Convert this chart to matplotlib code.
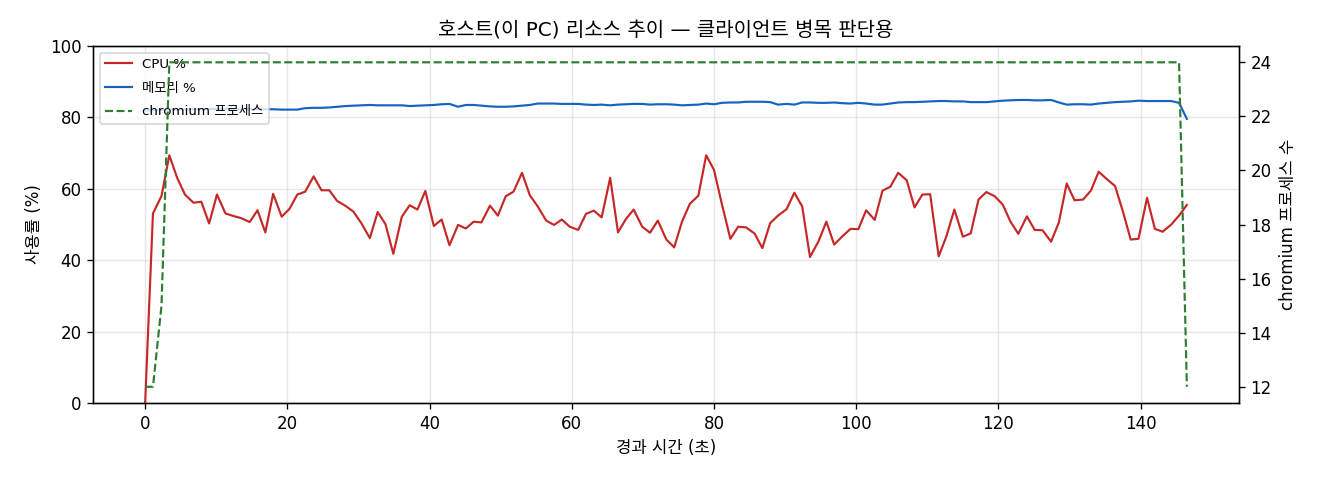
import matplotlib
matplotlib.use("Agg")
import matplotlib.pyplot as plt

plt.rcParams['font.family'] = ['DejaVu Sans', 'Noto Sans CJK KR']
plt.rcParams['axes.unicode_minus'] = False

elapsed_s = [
    0.0, 1.1, 2.3, 3.4, 4.5, 5.6, 6.8, 7.9, 9.0, 10.1,
    11.3, 12.4, 13.5, 14.7, 15.8, 16.9, 18.0, 19.2, 20.3, 21.4,
    22.5, 23.7, 24.8, 25.9, 27.0, 28.2, 29.3, 30.4, 31.6, 32.7,
    33.8, 34.9, 36.1, 37.2, 38.3, 39.4, 40.6, 41.7, 42.8, 44.0,
    45.1, 46.2, 47.3, 48.5, 49.6, 50.7, 51.8, 53.0, 54.1, 55.2,
    56.4, 57.5, 58.6, 59.7, 60.9, 62.0, 63.1, 64.2, 65.4, 66.5,
    67.6, 68.7, 69.9, 71.0, 72.1, 73.3, 74.4, 75.5, 76.6, 77.8,
    78.9, 80.0, 81.1, 82.3, 83.4, 84.5, 85.7, 86.8, 87.9, 89.0,
    90.2, 91.3, 92.4, 93.5, 94.7, 95.8, 96.9, 98.0, 99.2, 100.3,
    101.4, 102.6, 103.7, 104.8, 105.9, 107.1, 108.2, 109.3, 110.4, 111.6,
    112.7, 113.8, 115.0, 116.1, 117.2, 118.3, 119.5, 120.6, 121.7, 122.8,
    124.0, 125.1, 126.2, 127.4, 128.5, 129.6, 130.7, 131.9, 133.0, 134.1,
    135.2, 136.4, 137.5, 138.6, 139.7, 140.9, 142.0, 143.1, 144.3, 145.4,
    146.5,
]

cpu_pct = [
    0.0, 53.1, 58.0, 69.4, 63.1, 58.4, 56.1, 56.4, 50.3, 58.4,
    53.1, 52.4, 51.8, 50.7, 54.0, 47.8, 58.6, 52.2, 54.4, 58.4,
    59.2, 63.5, 59.6, 59.6, 56.6, 55.2, 53.6, 50.4, 46.2, 53.5,
    50.1, 41.8, 52.2, 55.4, 54.2, 59.4, 49.6, 51.4, 44.2, 49.9,
    48.9, 50.8, 50.6, 55.3, 52.5, 57.9, 59.2, 64.5, 58.2, 55.1,
    51.1, 49.9, 51.4, 49.4, 48.5, 53.0, 53.9, 52.0, 63.1, 47.8,
    51.5, 54.2, 49.4, 47.7, 51.1, 45.8, 43.6, 50.8, 55.8, 58.1,
    69.4, 65.3, 55.8, 46.0, 49.4, 49.2, 47.5, 43.4, 50.4, 52.5,
    54.3, 58.9, 55.1, 40.9, 45.3, 50.8, 44.4, 46.6, 48.8, 48.7,
    54.0, 51.3, 59.5, 60.6, 64.5, 62.4, 54.8, 58.4, 58.5, 41.1,
    46.8, 54.2, 46.6, 47.5, 57.0, 59.1, 57.9, 55.6, 50.8, 47.4,
    52.3, 48.5, 48.4, 45.2, 50.6, 61.5, 56.8, 57.0, 59.5, 64.8,
    62.8, 60.8, 53.7, 45.8, 46.0, 57.5, 48.8, 48.0, 50.0, 52.5,
    55.5,
]

mem_pct = [
    81.9, 82.0, 82.1, 82.2, 82.2, 82.3, 82.3, 82.3, 82.4, 82.4,
    82.4, 82.3, 82.3, 82.3, 82.3, 82.3, 82.3, 82.2, 82.2, 82.2,
    82.6, 82.7, 82.7, 82.8, 83.0, 83.2, 83.3, 83.4, 83.5, 83.4,
    83.4, 83.4, 83.4, 83.2, 83.3, 83.4, 83.5, 83.7, 83.8, 83.0,
    83.5, 83.5, 83.3, 83.1, 83.0, 83.0, 83.1, 83.3, 83.5, 83.9,
    83.9, 83.9, 83.8, 83.8, 83.8, 83.6, 83.5, 83.6, 83.4, 83.6,
    83.7, 83.8, 83.8, 83.6, 83.7, 83.7, 83.6, 83.4, 83.5, 83.6,
    83.9, 83.7, 84.1, 84.2, 84.2, 84.4, 84.4, 84.4, 84.3, 83.6,
    83.8, 83.6, 84.2, 84.2, 84.1, 84.1, 84.2, 84.0, 83.9, 84.1,
    83.9, 83.6, 83.6, 83.9, 84.2, 84.3, 84.3, 84.4, 84.5, 84.6,
    84.6, 84.5, 84.5, 84.3, 84.3, 84.3, 84.5, 84.7, 84.8, 84.9,
    84.9, 84.8, 84.8, 84.9, 84.2, 83.6, 83.7, 83.7, 83.6, 83.9,
    84.1, 84.3, 84.4, 84.5, 84.7, 84.6, 84.6, 84.6, 84.6, 84.1,
    79.6,
]

chromium_procs = [12, 12, 15] + [24] * 127 + [12]

title = "호스트(이 PC) 리소스 추이 — 클라이언트 병목 판단용"
xlabel = "경과 시간 (초)"
ylabel_left = "사용률 (%)"
ylabel_right = "chromium 프로세스 수"
labels = ["CPU %", "메모리 %", "chromium 프로세스"]

fig = plt.figure(figsize=(11, 4), dpi=120)
ax = fig.add_axes([0.0705, 0.1604, 0.8681, 0.7436])
ax2 = ax.twinx()

l1, = ax.plot(elapsed_s, cpu_pct, color="#c62828", lw=1.3, label=labels[0])
l2, = ax.plot(elapsed_s, mem_pct, color="#1565c0", lw=1.3, label=labels[1])
l3, = ax2.plot(elapsed_s, chromium_procs, color="#2e7d32", lw=1.3,
               ls="--", label=labels[2])

ax.set_ylim(0, 100)
ax.grid(True, alpha=0.3)
ax.set_xlabel(xlabel, fontsize=10)
ax.set_ylabel(ylabel_left, fontsize=10)
ax2.set_ylabel(ylabel_right, fontsize=10)
ax.set_title(title, fontsize=12)
ax.tick_params(labelsize=10)
ax2.tick_params(labelsize=10)

ax.legend(handles=[l1, l2, l3], loc="upper left", fontsize=8,
          labelspacing=0.8)

fig.savefig("out.png", dpi=120)
